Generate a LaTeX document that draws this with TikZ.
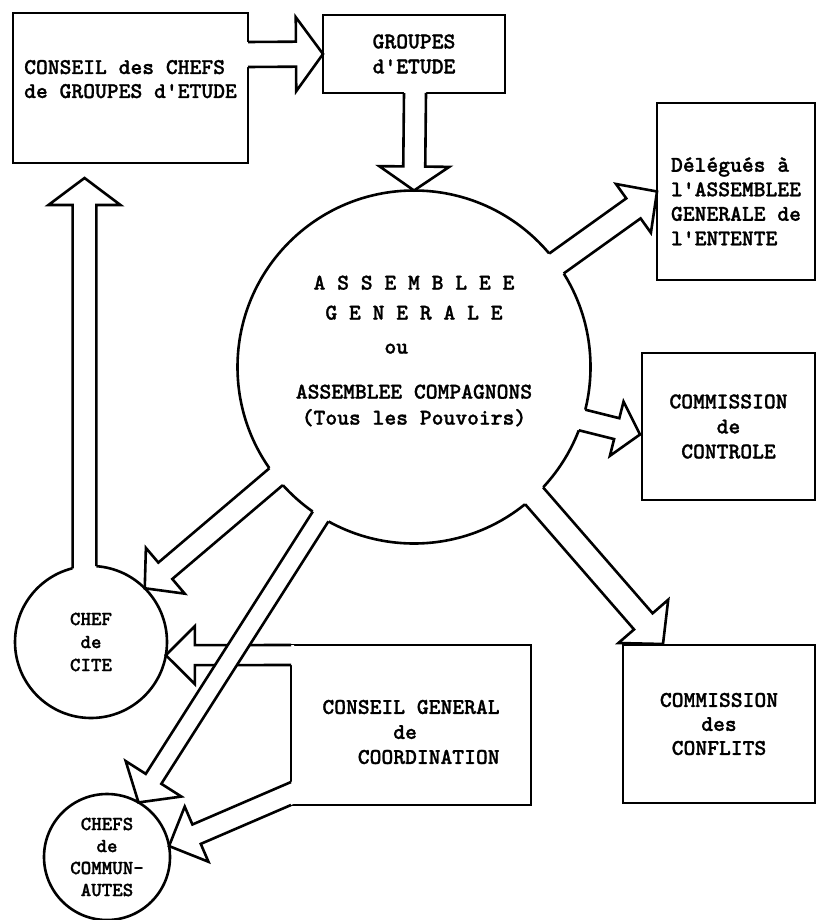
\documentclass[tikz,border=0pt]{standalone}
\usepackage{fontspec}
\usepackage{tikz}
\usetikzlibrary{calc}

\newfontfamily\machine{lmmonolt10-bold.otf}[FakeBold=1.2]
\newcommand{\tw}[2][22.5]{\machine\fontsize{#1}{#2}\selectfont}
% block arrow: base points #1 #2, tip #3, half head width #4, head length #5
\newcommand{\fleche}[5]{%
  \coordinate (fM) at ($(#1)!.5!(#2)$);
  \coordinate (fH) at ($(#3)!#5!(fM)$);
  \coordinate (fFa) at ($(fM)!(#1)!(#3)$);
  \coordinate (fFb) at ($(fM)!(#2)!(#3)$);
  \coordinate (fQa) at ($(fH)+(#1)-(fFa)$);
  \coordinate (fQb) at ($(fH)+(#2)-(fFb)$);
  \coordinate (fBa) at ($(fH)!#4!(fQa)$);
  \coordinate (fBb) at ($(fH)!#4!(fQb)$);
  \fill[white] ($(#1)!-3pt!(fQa)$) -- (fQa) -- (fBa) -- (#3) -- (fBb) -- (fQb) -- ($(#2)!-3pt!(fQb)$) -- cycle;
  \draw (#1) -- (fQa) -- (fBa) -- (#3) -- (fBb) -- (fQb) -- (#2);
}

\begin{document}
\begin{tikzpicture}[x=1pt,y=-1pt,line width=2.6pt,
  boite/.style={draw,rectangle,inner sep=0pt,outer sep=0pt,align=center},
  rond/.style={draw,circle,inner sep=0pt,outer sep=0pt,align=center}]
\useasboundingbox (0,0) rectangle (819,920);

\node[boite,minimum width=235pt,minimum height=150pt,align=left,font=\tw{24}] (cc) at (130.5,88)
  {CONSEIL des CHEFS\\de GROUPES d'ETUDE\rule[-18pt]{0pt}{0pt}};
\node[boite,minimum width=182pt,minimum height=78pt,font=\tw{25}] (gr) at (414,54)
  {GROUPES\\d'ETUDE};
\node[boite,minimum width=158pt,minimum height=177pt,align=left,font=\tw{24.5}] (del) at (736,191.5)
  {\rule{0pt}{34pt}Délégués à\\l'ASSEMBLEE\\GENERALE de\\l'ENTENTE};
\node[boite,minimum width=173pt,minimum height=147pt,font=\tw{25}] (ctl) at (728.5,426.5)
  {COMMISSION\\de\\CONTROLE};
\node[boite,minimum width=192pt,minimum height=158pt,font=\tw{24}] (cf) at (719,724)
  {COMMISSION\\des\\CONFLITS};
\node[boite,minimum width=240pt,minimum height=160pt,align=right,font=\tw{25}] (cg) at (411,725)
  {\rule{0pt}{28pt}CONSEIL GENERAL\\de\hphantom{xxxxxxx}\\COORDINATION};
\node[rond,minimum size=353pt] (ag) at (414,367) {};
\node[align=center,font=\tw{26}] (agt) at (414,351)
  {A S S E M B L E E\\[4pt]G E N E R A L E\\[8pt]ou\hphantom{ooo}\\[19pt]ASSEMBLEE COMPAGNONS\\(Tous les Pouvoirs)};
\node[rond,minimum size=152pt,font={\tw[20]{23}}] (cite) at (91,642) {CHEF\\de\\CITE};
\node[rond,minimum size=126pt,font={\tw[20]{22}}] (cm) at (107,857) {CHEFS\\de\\COMMUN-\\AUTES};

\coordinate (cca) at ($(cc.north east)+(0,29)$);
\coordinate (ccb) at ($(cc.north east)+(0,54)$);
\fleche{cca}{ccb}{gr.west}{37pt}{27pt}
\coordinate (gra) at ($(gr.south)+(-10,0)$);
\coordinate (grb) at ($(gr.south)+(12,0)$);
\fleche{gra}{grb}{ag.north}{35pt}{24pt}
\fleche{ag.40}{ag.32}{del.west}{30pt}{29pt}
\coordinate (ctlp) at ($(ctl.west)+(-2,8)$);
\fleche{ag.346}{ag.339}{ctlp}{28pt}{24pt}
\coordinate (cfp) at ($(cf.north west)+(40,-1)$);
\fleche{ag.317}{ag.309}{cfp}{33pt}{30pt}
\fleche{ag.215}{ag.222}{cite.45}{30pt}{27pt}
\coordinate (ccp) at ($(cc.south)+(-46,15)$);
\fleche{cite.104}{cite.86}{ccp}{36pt}{27pt}
\coordinate (cga) at (cg.north west);
\coordinate (cgb) at ($(cg.north west)+(0,20)$);
\fleche{cga}{cgb}{cite.350}{29pt}{29pt}
\coordinate (cgc) at ($(cg.south west)+(0,-23)$);
\coordinate (cgd) at (cg.south west);
\fleche{cgc}{cgd}{cm.10}{30pt}{30pt}
\fleche{ag.235}{ag.241}{cm.60}{33pt}{28pt}
\end{tikzpicture}
\end{document}
